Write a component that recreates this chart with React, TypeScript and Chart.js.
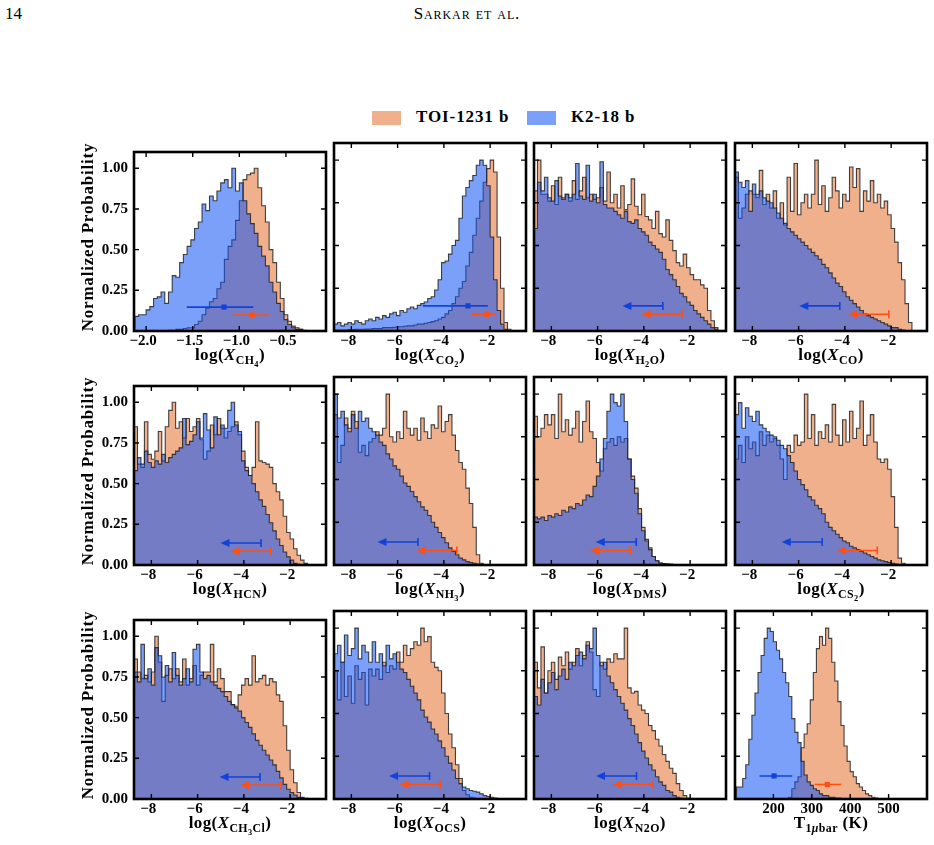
import React, { useEffect, useRef } from "react";
import { Chart, registerables } from "chart.js";
Chart.register(...registerables);

// ---------------- data ----------------
const LOG_START = -8.75;
const LOG_W = 0.15;
const CH4_START = -2.12;
const CH4_W = 0.04;
const T_START = 104;
const T_W = 8;

const logTicks = [-8, -6, -4, -2];
const ch4Ticks = [-2.0, -1.5, -1.0, -0.5];
const tTicks = [200, 300, 400, 500];
const probTicks = [0, 0.25, 0.5, 0.75, 1.0];

const ch4K2 = [
  0.09, 0.1, 0.1, 0.13, 0.15, 0.2, 0.21, 0.24, 0.17, 0.24, 0.34, 0.33,
  0.42, 0.47, 0.52, 0.56, 0.63, 0.67, 0.78, 0.74, 0.83, 0.8, 0.86, 0.91,
  0.93, 0.88, 1.0, 0.86, 0.91, 0.8, 0.72, 0.66, 0.6, 0.52, 0.46, 0.4,
  0.3, 0.24, 0.17, 0.12, 0.07, 0.04, 0.02, 0.01, 0.01, 0, 0, 0,
];
const ch4Toi = [
  0, 0, 0, 0, 0, 0, 0, 0, 0, 0.005, 0.005, 0.01,
  0.01, 0.015, 0.02, 0.02, 0.04, 0.06, 0.1, 0.14, 0.18, 0.2, 0.26, 0.3,
  0.44, 0.52, 0.56, 0.68, 0.8, 0.93, 0.96, 0.97, 1.0, 0.88, 0.77, 0.67,
  0.5, 0.42, 0.3, 0.2, 0.1, 0.06, 0.03, 0.02, 0.01, 0.005, 0, 0,
];

const co2K2 = [
  0.04, 0.05, 0.03, 0.04, 0.05, 0.04, 0.06, 0.05, 0.04, 0.06, 0.07,
  0.06, 0.08, 0.07, 0.09, 0.08, 0.1, 0.11, 0.09, 0.12, 0.11, 0.13,
  0.14, 0.13, 0.15, 0.16, 0.17, 0.19, 0.2, 0.24, 0.3, 0.4, 0.41,
  0.45, 0.5, 0.53, 0.66, 0.79, 0.84, 0.88, 0.91, 0.97, 1.0, 0.97,
  0.85, 0.55, 0.3, 0.12, 0.04, 0.01, 0, 0, 0, 0, 0,
];
const co2Toi = [
  0.005, 0.005, 0.005, 0.005, 0.008, 0.008, 0.01, 0.01, 0.01, 0.012, 0.012,
  0.015, 0.015, 0.015, 0.02, 0.02, 0.02, 0.022, 0.025, 0.025, 0.028, 0.03,
  0.03, 0.035, 0.04, 0.04, 0.045, 0.05, 0.055, 0.06, 0.07, 0.08, 0.1,
  0.12, 0.16, 0.2, 0.25, 0.29, 0.38, 0.46, 0.56, 0.66, 0.76, 0.87,
  0.95, 1.0, 0.93, 0.55, 0.25, 0.05, 0.01, 0, 0, 0, 0,
];

const h2oK2 = [
  0.6, 0.87, 0.82, 0.9, 0.78, 0.76, 0.88, 0.79, 0.77, 0.8, 0.78,
  0.8, 0.98, 0.79, 0.77, 0.97, 0.76, 0.8, 0.75, 0.99, 0.74, 0.72,
  0.72, 0.7, 0.68, 0.66, 0.7, 0.64, 0.63, 0.65, 0.6, 0.58, 0.56,
  0.52, 0.5, 0.48, 0.46, 0.42, 0.36, 0.33, 0.3, 0.26, 0.22, 0.2,
  0.17, 0.15, 0.12, 0.1, 0.08, 0.06, 0.04, 0.02, 0.01, 0, 0,
];
const h2oToi = [
  0.82, 1.0, 0.8, 0.8, 0.76, 0.85, 0.74, 0.9, 0.78, 0.8, 0.76,
  0.88, 0.77, 0.82, 0.9, 0.78, 0.8, 0.77, 0.78, 0.84, 0.76, 0.93,
  0.75, 0.8, 0.72, 0.85, 0.71, 0.74, 0.89, 0.73, 0.68, 0.8, 0.67,
  0.65, 0.6, 0.7, 0.57, 0.55, 0.65, 0.53, 0.47, 0.4, 0.38, 0.45,
  0.37, 0.33, 0.3, 0.3, 0.27, 0.25, 0.12, 0.06, 0.02, 0, 0,
];

const coK2 = [
  0.93, 0.87, 0.84, 0.88, 0.7, 0.86, 0.8, 0.82, 0.78, 0.76, 0.75,
  0.72, 0.69, 0.66, 0.63, 0.6, 0.58, 0.56, 0.54, 0.52, 0.5, 0.48,
  0.46, 0.44, 0.42, 0.39, 0.37, 0.34, 0.31, 0.28, 0.26, 0.23, 0.2,
  0.18, 0.16, 0.14, 0.12, 0.1, 0.09, 0.08, 0.07, 0.06, 0.05, 0.04,
  0.03, 0.02, 0.02, 0.01, 0.005, 0, 0, 0, 0, 0, 0,
];
const coToi = [
  0.9, 0.66, 0.72, 0.8, 0.82, 0.8, 0.78, 0.94, 0.74, 0.8, 0.72,
  0.82, 0.66, 0.75, 0.62, 0.9, 0.7, 0.98, 0.68, 0.75, 0.8, 0.72,
  0.8, 1.0, 0.74, 0.85, 0.7, 0.78, 0.9, 0.82, 0.72, 0.8, 0.76,
  0.96, 0.84, 0.95, 0.7, 0.82, 0.76, 0.88, 0.75, 0.8, 0.72, 0.76,
  0.68, 0.6, 0.52, 0.4, 0.3, 0.16, 0.05, 0, 0, 0, 0,
];

const hcnK2 = [
  0.58, 0.66, 0.62, 0.7, 0.63, 0.6, 0.64, 0.62, 0.68, 0.63, 0.66,
  0.68, 0.7, 0.72, 0.9, 0.74, 0.76, 0.8, 0.88, 0.78, 0.93, 0.83,
  0.72, 0.91, 0.8, 0.86, 0.84, 0.95, 1.0, 0.86, 0.82, 0.64, 0.58,
  0.55, 0.5, 0.45, 0.4, 0.36, 0.31, 0.26, 0.21, 0.16, 0.12, 0.08,
  0.05, 0.03, 0.01, 0.005, 0, 0, 0, 0, 0, 0, 0,
];
const hcnToi = [
  0.85, 0.62, 0.6, 0.88, 0.68, 0.65, 0.7, 0.82, 0.64, 0.85, 0.95,
  1.0, 0.84, 0.88, 0.78, 0.9, 0.82, 0.85, 0.9, 0.77, 0.65, 0.7,
  0.86, 0.8, 0.9, 0.84, 0.78, 0.82, 0.85, 0.88, 0.8, 0.7, 0.6,
  0.55, 0.6, 0.88, 0.64, 0.63, 0.62, 0.6, 0.5, 0.45, 0.4, 0.3,
  0.2, 0.16, 0.1, 0.06, 0.03, 0.01, 0, 0, 0, 0, 0,
];

const nh3K2 = [
  1.0, 0.86, 0.9, 0.82, 0.78, 0.88, 0.8, 0.9, 0.84, 0.86, 0.8,
  0.78, 0.76, 0.72, 0.7, 0.65, 0.62, 0.58, 0.56, 0.52, 0.48, 0.46,
  0.43, 0.4, 0.37, 0.34, 0.32, 0.29, 0.25, 0.22, 0.19, 0.16, 0.13,
  0.1, 0.08, 0.06, 0.04, 0.03, 0.02, 0.015, 0.01, 0.005, 0, 0,
  0, 0, 0, 0, 0, 0, 0, 0, 0, 0, 0,
];
const nh3Toi = [
  0.88, 0.6, 0.7, 0.86, 0.8, 0.9, 0.84, 0.66, 0.7, 0.64, 0.72,
  0.74, 0.78, 0.76, 0.8, 1.0, 0.75, 0.72, 0.78, 0.74, 0.9, 0.8,
  0.76, 0.8, 0.73, 0.86, 0.78, 0.74, 0.82, 0.8, 0.93, 0.78, 0.84,
  0.88, 0.76, 0.67, 0.6, 0.56, 0.45, 0.36, 0.22, 0.06, 0.01, 0,
  0, 0, 0, 0, 0, 0, 0, 0, 0, 0, 0,
];

const dmsK2 = [
  0.28, 0.27, 0.28, 0.26, 0.29, 0.28, 0.3, 0.29, 0.32, 0.31, 0.34,
  0.33, 0.36, 0.35, 0.38, 0.41, 0.4, 0.46, 0.52, 0.62, 0.74, 0.9,
  1.0, 0.95, 0.93, 1.0, 0.84, 0.62, 0.5, 0.42, 0.3, 0.2, 0.14,
  0.09, 0.05, 0.025, 0.012, 0.008, 0.005, 0.004, 0.003, 0, 0, 0,
  0, 0, 0, 0, 0, 0, 0, 0, 0, 0, 0,
];
const dmsToi = [
  0.87, 0.75, 0.8, 0.88, 0.82, 0.88, 0.74, 1.0, 0.78, 0.85, 0.76,
  0.8, 0.9, 0.72, 0.84, 0.96, 0.78, 0.74, 0.6, 0.55, 0.68, 0.72,
  0.74, 0.7, 0.75, 0.72, 0.74, 0.62, 0.52, 0.45, 0.33, 0.22, 0.15,
  0.1, 0.05, 0.025, 0.012, 0.008, 0.005, 0.004, 0.003, 0, 0, 0,
  0, 0, 0, 0, 0, 0, 0, 0, 0, 0, 0,
];

const cs2K2 = [
  0.88, 0.95, 0.8, 0.92, 0.87, 0.84, 0.9, 0.82, 0.8, 0.78, 0.76,
  0.75, 0.73, 0.7, 0.68, 0.64, 0.6, 0.55, 0.5, 0.47, 0.44, 0.4,
  0.38, 0.35, 0.33, 0.3, 0.25, 0.22, 0.2, 0.18, 0.16, 0.14, 0.13,
  0.11, 0.1, 0.09, 0.08, 0.07, 0.06, 0.05, 0.04, 0.03, 0.025, 0.02,
  0.015, 0.01, 0.005, 0.003, 0, 0, 0, 0, 0, 0, 0,
];
const cs2Toi = [
  0.62, 0.7, 0.6, 0.75, 0.68, 0.72, 0.64, 0.78, 0.7, 0.76, 0.72,
  0.74, 0.7, 0.62, 0.5, 0.7, 0.66, 0.76, 0.7, 0.72, 1.0, 0.74,
  0.88, 0.7, 0.78, 0.74, 0.82, 0.72, 0.94, 0.76, 0.7, 0.85, 0.72,
  0.9, 0.74, 0.8, 0.96, 0.7, 0.76, 0.88, 0.72, 0.62, 0.6, 0.62,
  0.56, 0.4, 0.22, 0.04, 0.01, 0, 0, 0, 0, 0, 0,
];

const ch3clK2 = [
  0.78, 0.72, 0.95, 0.74, 0.8, 0.7, 0.93, 0.88, 0.75, 0.82, 0.72,
  0.9, 0.76, 0.7, 0.74, 0.8, 0.72, 0.92, 0.95, 0.78, 0.74, 0.76,
  0.72, 0.7, 0.68, 0.66, 0.63, 0.6, 0.58, 0.56, 0.54, 0.5, 0.47,
  0.44, 0.4, 0.36, 0.33, 0.3, 0.27, 0.24, 0.21, 0.17, 0.13, 0.09,
  0.06, 0.04, 0.025, 0.01, 0.005, 0, 0, 0, 0, 0, 0,
];
const ch3clToi = [
  0.86, 0.78, 0.74, 0.76, 0.72, 0.78, 1.0, 0.84, 0.6, 0.76, 0.8,
  0.74, 0.8, 0.72, 0.86, 0.7, 0.74, 0.82, 0.7, 0.76, 0.78, 0.78,
  0.95, 0.72, 0.8, 0.74, 0.66, 0.66, 0.58, 0.57, 0.64, 0.7, 0.74,
  0.7, 0.88, 0.72, 0.74, 0.76, 0.7, 0.74, 0.72, 0.64, 0.6, 0.45,
  0.3, 0.18, 0.1, 0.04, 0.01, 0.005, 0, 0, 0, 0, 0,
];

const ocsK2 = [
  0.85, 0.9, 0.8, 0.96, 0.84, 0.88, 1.0, 0.82, 0.9, 0.86, 0.8,
  0.92, 0.8, 0.85, 0.78, 0.9, 0.82, 0.85, 0.8, 0.76, 0.74, 0.7,
  0.66, 0.62, 0.58, 0.52, 0.48, 0.45, 0.41, 0.38, 0.34, 0.3, 0.25,
  0.21, 0.17, 0.12, 0.09, 0.07, 0.06, 0.05, 0.045, 0.04, 0.03, 0.02,
  0.015, 0.01, 0.005, 0, 0, 0, 0, 0, 0, 0, 0,
];
const ocsToi = [
  0.75, 0.58, 0.8, 0.6, 0.72, 0.56, 0.78, 0.7, 0.74, 0.55, 0.76,
  0.72, 0.76, 0.7, 0.8, 0.74, 0.78, 0.76, 0.86, 0.8, 0.9, 0.84,
  0.88, 0.92, 0.9, 1.0, 0.92, 0.95, 0.8, 0.77, 0.75, 0.62, 0.5,
  0.38, 0.3, 0.2, 0.12, 0.05, 0.025, 0.01, 0.005, 0, 0, 0,
  0, 0, 0, 0, 0, 0, 0, 0, 0, 0, 0,
];

const n2oK2 = [
  0.6, 0.55, 0.7, 0.62, 0.68, 0.74, 0.64, 0.72, 0.76, 0.7, 0.8,
  0.78, 0.84, 0.86, 0.82, 0.9, 0.88, 1.0, 0.84, 0.78, 0.8, 0.72,
  0.68, 0.64, 0.6, 0.56, 0.52, 0.47, 0.43, 0.38, 0.33, 0.28, 0.24,
  0.2, 0.17, 0.13, 0.1, 0.08, 0.05, 0.04, 0.02, 0.01, 0.005, 0,
  0, 0, 0, 0, 0, 0, 0, 0, 0, 0, 0,
];
const n2oToi = [
  0.8, 0.65, 0.89, 0.62, 0.75, 0.8, 0.7, 0.83, 0.78, 0.86, 0.76,
  0.8, 0.88, 0.78, 0.84, 0.92, 0.86, 0.64, 0.6, 0.8, 0.76, 0.82,
  0.8, 0.85, 0.82, 0.82, 1.0, 0.65, 0.62, 0.63, 0.55, 0.52, 0.5,
  0.43, 0.4, 0.35, 0.31, 0.26, 0.22, 0.18, 0.15, 0.09, 0.05, 0.02,
  0.005, 0, 0, 0, 0, 0, 0, 0, 0, 0, 0,
];

const tK2 = [
  0.07, 0.07, 0.12, 0.2, 0.35, 0.49, 0.62, 0.74, 0.84, 0.94, 1.0, 0.98,
  0.92, 0.87, 0.82, 0.74, 0.68, 0.6, 0.47, 0.39, 0.33, 0.22, 0.14, 0.1,
  0.08, 0.06, 0.05, 0.03, 0.02, 0.02, 0.01, 0.01, 0.005, 0.005, 0, 0,
  0, 0, 0, 0, 0, 0, 0, 0, 0, 0, 0,
];
const tToi = [
  0, 0, 0, 0, 0, 0, 0, 0, 0, 0, 0, 0,
  0, 0, 0, 0, 0, 0.01, 0.06, 0.1, 0.13, 0.3, 0.38, 0.44,
  0.58, 0.74, 0.88, 0.95, 0.9, 1.0, 0.94, 0.8, 0.69, 0.57, 0.43, 0.31,
  0.22, 0.16, 0.13, 0.09, 0.07, 0.05, 0.03, 0.02, 0.01, 0.005, 0,
];

// retrieved constraints: [median, lower, upper]
const ch4K2Est = [-1.164, -1.564, -0.85];
const ch4ToiEst = [-0.861, -1.064, -0.682];
const co2K2Est = [-2.96, -4.91, -2.1];
const co2ToiEst = [-2.14, -2.82, -1.74];
const tK2Est = [201.7, 164, 249];
const tToiEst = [340.5, 307.8, 376.7];
// upper limits (value where the limit sits), [K2-18 b, TOI-1231 b]
const ARROW_LEN = 1.75;
const h2oUL = [-3.18, -2.35];
const coUL = [-4.22, -2.1];
const hcnUL = [-3.26, -2.83];
const nh3UL = [-5.12, -3.44];
const dmsUL = [-4.33, -4.58];
const cs2UL = [-4.98, -2.6];
const ch3clUL = [-3.3, -2.41];
const ocsUL = [-4.62, -4.16];
const n2oUL = [-4.32, -3.6];
const markYRow1 = [0.147, 0.098];
const markYRow23 = [0.135, 0.085];

// ---------------- styles ----------------
const SERIF = '"Liberation Serif", "Times New Roman", serif';
const ORANGE_FILL = "rgba(225,97,25,0.5)";
const BLUE_FILL = "rgba(13,82,245,0.55)";
const EDGE = "rgba(35,35,35,0.85)";
const K2_MARK = "#1242d8";
const TOI_MARK = "#ff5012";

const COL_LEFT = [134, 334, 534, 735];
const ROW_TOP = [143, 377, 611];
const PW = 192;
const PH = 188;
const AX_L = 60;
const AX_B = 22;
const PAD_T = 6;
const PAD_R = 6;
const CW = AX_L + PW + PAD_R;
const CH = PAD_T + PH + AX_B;

const S = ({ children }: { children: React.ReactNode }) => (
  <sub style={{ fontSize: "0.7em", verticalAlign: "-0.32em", lineHeight: 0 }}>{children}</sub>
);
const logLabel = (sub: React.ReactNode) => (
  <>
    log(<i>X</i>
    <S>{sub}</S>)
  </>
);

type Mark =
  | { kind: "pt"; est: number[]; y: number; color: string }
  | { kind: "ul"; v: number; y: number; color: string };

const ulMarks = (ul: number[], ys: number[]): Mark[] => [
  { kind: "ul", v: ul[0], y: ys[0], color: K2_MARK },
  { kind: "ul", v: ul[1], y: ys[1], color: TOI_MARK },
];
const ptMarks = (a: number[], b: number[], ys: number[]): Mark[] => [
  { kind: "pt", est: a, y: ys[0], color: K2_MARK },
  { kind: "pt", est: b, y: ys[1], color: TOI_MARK },
];

type PanelCfg = {
  k2: number[];
  toi: number[];
  start: number;
  width: number;
  xMin: number;
  xMax: number;
  xTicks: number[];
  dec: number;
  marks: Mark[];
  label: React.ReactNode;
};

const logP = (k2: number[], toi: number[], marks: Mark[], label: React.ReactNode): PanelCfg => ({
  k2, toi, start: LOG_START, width: LOG_W, xMin: -8.75, xMax: -0.45, xTicks: logTicks, dec: 0, marks, label,
});

const panels: PanelCfg[] = [
  { k2: ch4K2, toi: ch4Toi, start: CH4_START, width: CH4_W, xMin: -2.13, xMax: -0.07, xTicks: ch4Ticks, dec: 1,
    marks: ptMarks(ch4K2Est, ch4ToiEst, markYRow1), label: logLabel(<>CH<S>4</S></>) },
  { k2: co2K2, toi: co2Toi, start: LOG_START, width: LOG_W, xMin: -8.75, xMax: -0.45, xTicks: logTicks, dec: 0,
    marks: ptMarks(co2K2Est, co2ToiEst, markYRow1), label: logLabel(<>CO<S>2</S></>) },
  logP(h2oK2, h2oToi, ulMarks(h2oUL, markYRow1), logLabel(<>H<S>2</S>O</>)),
  logP(coK2, coToi, ulMarks(coUL, markYRow1), logLabel("CO")),
  logP(hcnK2, hcnToi, ulMarks(hcnUL, markYRow23), logLabel("HCN")),
  logP(nh3K2, nh3Toi, ulMarks(nh3UL, markYRow23), logLabel(<>NH<S>3</S></>)),
  logP(dmsK2, dmsToi, ulMarks(dmsUL, markYRow23), logLabel("DMS")),
  logP(cs2K2, cs2Toi, ulMarks(cs2UL, markYRow23), logLabel(<>CS<S>2</S></>)),
  logP(ch3clK2, ch3clToi, ulMarks(ch3clUL, markYRow23), logLabel(<>CH<S>3</S>Cl</>)),
  logP(ocsK2, ocsToi, ulMarks(ocsUL, markYRow23), logLabel("OCS")),
  logP(n2oK2, n2oToi, ulMarks(n2oUL, markYRow23), logLabel("N2O")),
  { k2: tK2, toi: tToi, start: T_START, width: T_W, xMin: 100, xMax: 600, xTicks: tTicks, dec: 0,
    marks: ptMarks(tK2Est, tToiEst, markYRow23),
    label: <>T<S>1<i>μ</i>bar</S> (K)</> },
];

const fmt = (v: number, dec: number) => {
  const s = Math.abs(v).toFixed(dec);
  return v < 0 ? "\u2212" + s : s;
};

function hist(vals: number[], start: number, w: number) {
  const pts = [{ x: start, y: 0 }];
  vals.forEach((v, i) => pts.push({ x: start + i * w, y: v }));
  pts.push({ x: start + vals.length * w, y: 0 });
  return pts;
}

function Panel({ cfg, row, col }: { cfg: PanelCfg; row: number; col: number }) {
  const ref = useRef<HTMLCanvasElement>(null);
  useEffect(() => {
    const canvas = ref.current!;
    const overlay = {
      id: "overlay",
      afterDatasetsDraw(chart: any) {
        const { ctx, chartArea: a, scales } = chart;
        const xs = scales.x;
        const ys = scales.y;
        ctx.save();
        ctx.beginPath();
        ctx.rect(a.left, a.top, a.right - a.left, a.bottom - a.top);
        ctx.clip();
        for (const m of cfg.marks) {
          const py = ys.getPixelForValue(m.y);
          ctx.strokeStyle = m.color;
          ctx.fillStyle = m.color;
          ctx.lineWidth = 1.6;
          if (m.kind === "pt") {
            const x0 = xs.getPixelForValue(m.est[1]);
            const x1 = xs.getPixelForValue(m.est[2]);
            const xm = xs.getPixelForValue(m.est[0]);
            ctx.beginPath();
            ctx.moveTo(x0, py);
            ctx.lineTo(x1, py);
            ctx.stroke();
            ctx.fillRect(xm - 2.6, py - 2.6, 5.2, 5.2);
          } else {
            const xc = xs.getPixelForValue(m.v);
            const xh = xs.getPixelForValue(m.v - ARROW_LEN);
            ctx.beginPath();
            ctx.moveTo(xh + 4, py);
            ctx.lineTo(xc, py);
            ctx.moveTo(xc, py - 4);
            ctx.lineTo(xc, py + 4);
            ctx.stroke();
            ctx.beginPath();
            ctx.moveTo(xh, py);
            ctx.lineTo(xh + 9, py - 4);
            ctx.lineTo(xh + 9, py + 4);
            ctx.closePath();
            ctx.fill();
          }
        }
        ctx.restore();

        ctx.save();
        ctx.strokeStyle = "#000";
        ctx.lineWidth = 1.4;
        const TL = 5;
        ctx.beginPath();
        for (const v of cfg.xTicks) {
          const x = xs.getPixelForValue(v);
          ctx.moveTo(x, a.bottom);
          ctx.lineTo(x, a.bottom - TL);
          ctx.moveTo(x, a.top);
          ctx.lineTo(x, a.top + TL);
        }
        for (const v of probTicks) {
          const y = ys.getPixelForValue(v);
          ctx.moveTo(a.left, y);
          ctx.lineTo(a.left + TL, y);
          ctx.moveTo(a.right, y);
          ctx.lineTo(a.right - TL, y);
        }
        ctx.stroke();
        ctx.lineWidth = 2.6;
        ctx.strokeRect(a.left, a.top, a.right - a.left, a.bottom - a.top);
        ctx.restore();
      },
    };
    const tickFont = { family: SERIF, size: 15, weight: "bold" as const };
    const neg = cfg.xTicks[0] < 0;
    const chart = new Chart(canvas, {
      type: "line",
      data: {
        datasets: [
          {
            data: hist(cfg.k2, cfg.start, cfg.width),
            stepped: true,
            fill: "origin",
            backgroundColor: BLUE_FILL,
            borderColor: EDGE,
            borderWidth: 1.1,
            pointRadius: 0,
            order: 0,
          },
          {
            data: hist(cfg.toi, cfg.start, cfg.width),
            stepped: true,
            fill: "origin",
            backgroundColor: ORANGE_FILL,
            borderColor: EDGE,
            borderWidth: 1.1,
            pointRadius: 0,
            order: 1,
          },
        ],
      },
      options: {
        responsive: false,
        animation: false,
        events: [],
        layout: { padding: { left: 0, right: PAD_R, top: PAD_T, bottom: 0 } },
        plugins: { legend: { display: false }, tooltip: { enabled: false } },
        scales: {
          x: {
            type: "linear",
            min: cfg.xMin,
            max: cfg.xMax,
            grid: { display: false, drawTicks: false },
            border: { display: false },
            ticks: {
              font: tickFont,
              color: "#000",
              padding: 1,
              maxRotation: 0,
              autoSkip: false,
              labelOffset: neg ? -3 : 0,
              callback: (v: any) => fmt(Number(v), cfg.dec),
            },
            afterBuildTicks: (s: any) => {
              s.ticks = cfg.xTicks.map((v) => ({ value: v }));
            },
            afterFit: (s: any) => {
              s.height = AX_B;
            },
          },
          y: {
            type: "linear",
            min: 0,
            max: 1.1,
            grid: { display: false, drawTicks: false },
            border: { display: false },
            ticks: {
              display: col === 0,
              font: tickFont,
              color: "#000",
              padding: 6,
              callback: (v: any) => Number(v).toFixed(2),
            },
            afterBuildTicks: (s: any) => {
              s.ticks = probTicks.map((v) => ({ value: v }));
            },
            afterFit: (s: any) => {
              s.width = AX_L;
            },
          },
        },
      },
      plugins: [overlay],
    } as any);
    return () => chart.destroy();
  }, []);
  return (
    <canvas
      ref={ref}
      width={CW}
      height={CH}
      style={{ position: "absolute", left: COL_LEFT[col] - AX_L, top: ROW_TOP[row] - PAD_T, width: CW, height: CH }}
    />
  );
}

export default function App() {
  const labelFont = `bold 17px ${SERIF}`;
  return (
    <div style={{ position: "absolute", left: 0, top: 0, width: 934, height: 845, background: "#fff", fontFamily: SERIF, color: "#000" }}>
      <div style={{ position: "absolute", left: 5, top: 4, fontSize: 17 }}>14</div>
      <div style={{ position: "absolute", left: 317, width: 300, top: 4, fontSize: 17, textAlign: "center", fontVariant: "small-caps", letterSpacing: "0.9px" }}>
        Sarkar et al.
      </div>
      {/* legend */}
      <div style={{ position: "absolute", left: 372, top: 111, width: 29, height: 14, background: ORANGE_FILL }} />
      <div style={{ position: "absolute", left: 416, top: 107, font: `bold 17px ${SERIF}`, letterSpacing: "0.9px", whiteSpace: "nowrap" }}>TOI-1231 b</div>
      <div style={{ position: "absolute", left: 527, top: 111, width: 29, height: 14, background: BLUE_FILL }} />
      <div style={{ position: "absolute", left: 571, top: 107, font: `bold 17px ${SERIF}`, letterSpacing: "0.9px", whiteSpace: "nowrap" }}>K2-18 b</div>

      {panels.map((p, i) => {
        const row = Math.floor(i / 4);
        const col = i % 4;
        return <Panel key={i} cfg={p} row={row} col={col} />;
      })}
      {panels.map((p, i) => {
        const row = Math.floor(i / 4);
        const col = i % 4;
        return (
          <div
            key={"xl" + i}
            style={{
              position: "absolute",
              left: COL_LEFT[col] + PW / 2 - 100,
              width: 200,
              top: ROW_TOP[row] + PH + 14,
              height: 20,
              lineHeight: "20px",
              textAlign: "center",
              font: labelFont,
              letterSpacing: "0.4px",
              whiteSpace: "nowrap",
            }}
          >
            {p.label}
          </div>
        );
      })}
      {ROW_TOP.map((t, r) => (
        <div
          key={"yl" + r}
          style={{
            position: "absolute",
            left: 88 - 100,
            top: t + PH / 2 - 10,
            width: 200,
            height: 20,
            lineHeight: "20px",
            textAlign: "center",
            transform: "rotate(-90deg)",
            font: labelFont,
            letterSpacing: "0.8px",
            whiteSpace: "nowrap",
          }}
        >
          Normalized Probability
        </div>
      ))}
    </div>
  );
}
